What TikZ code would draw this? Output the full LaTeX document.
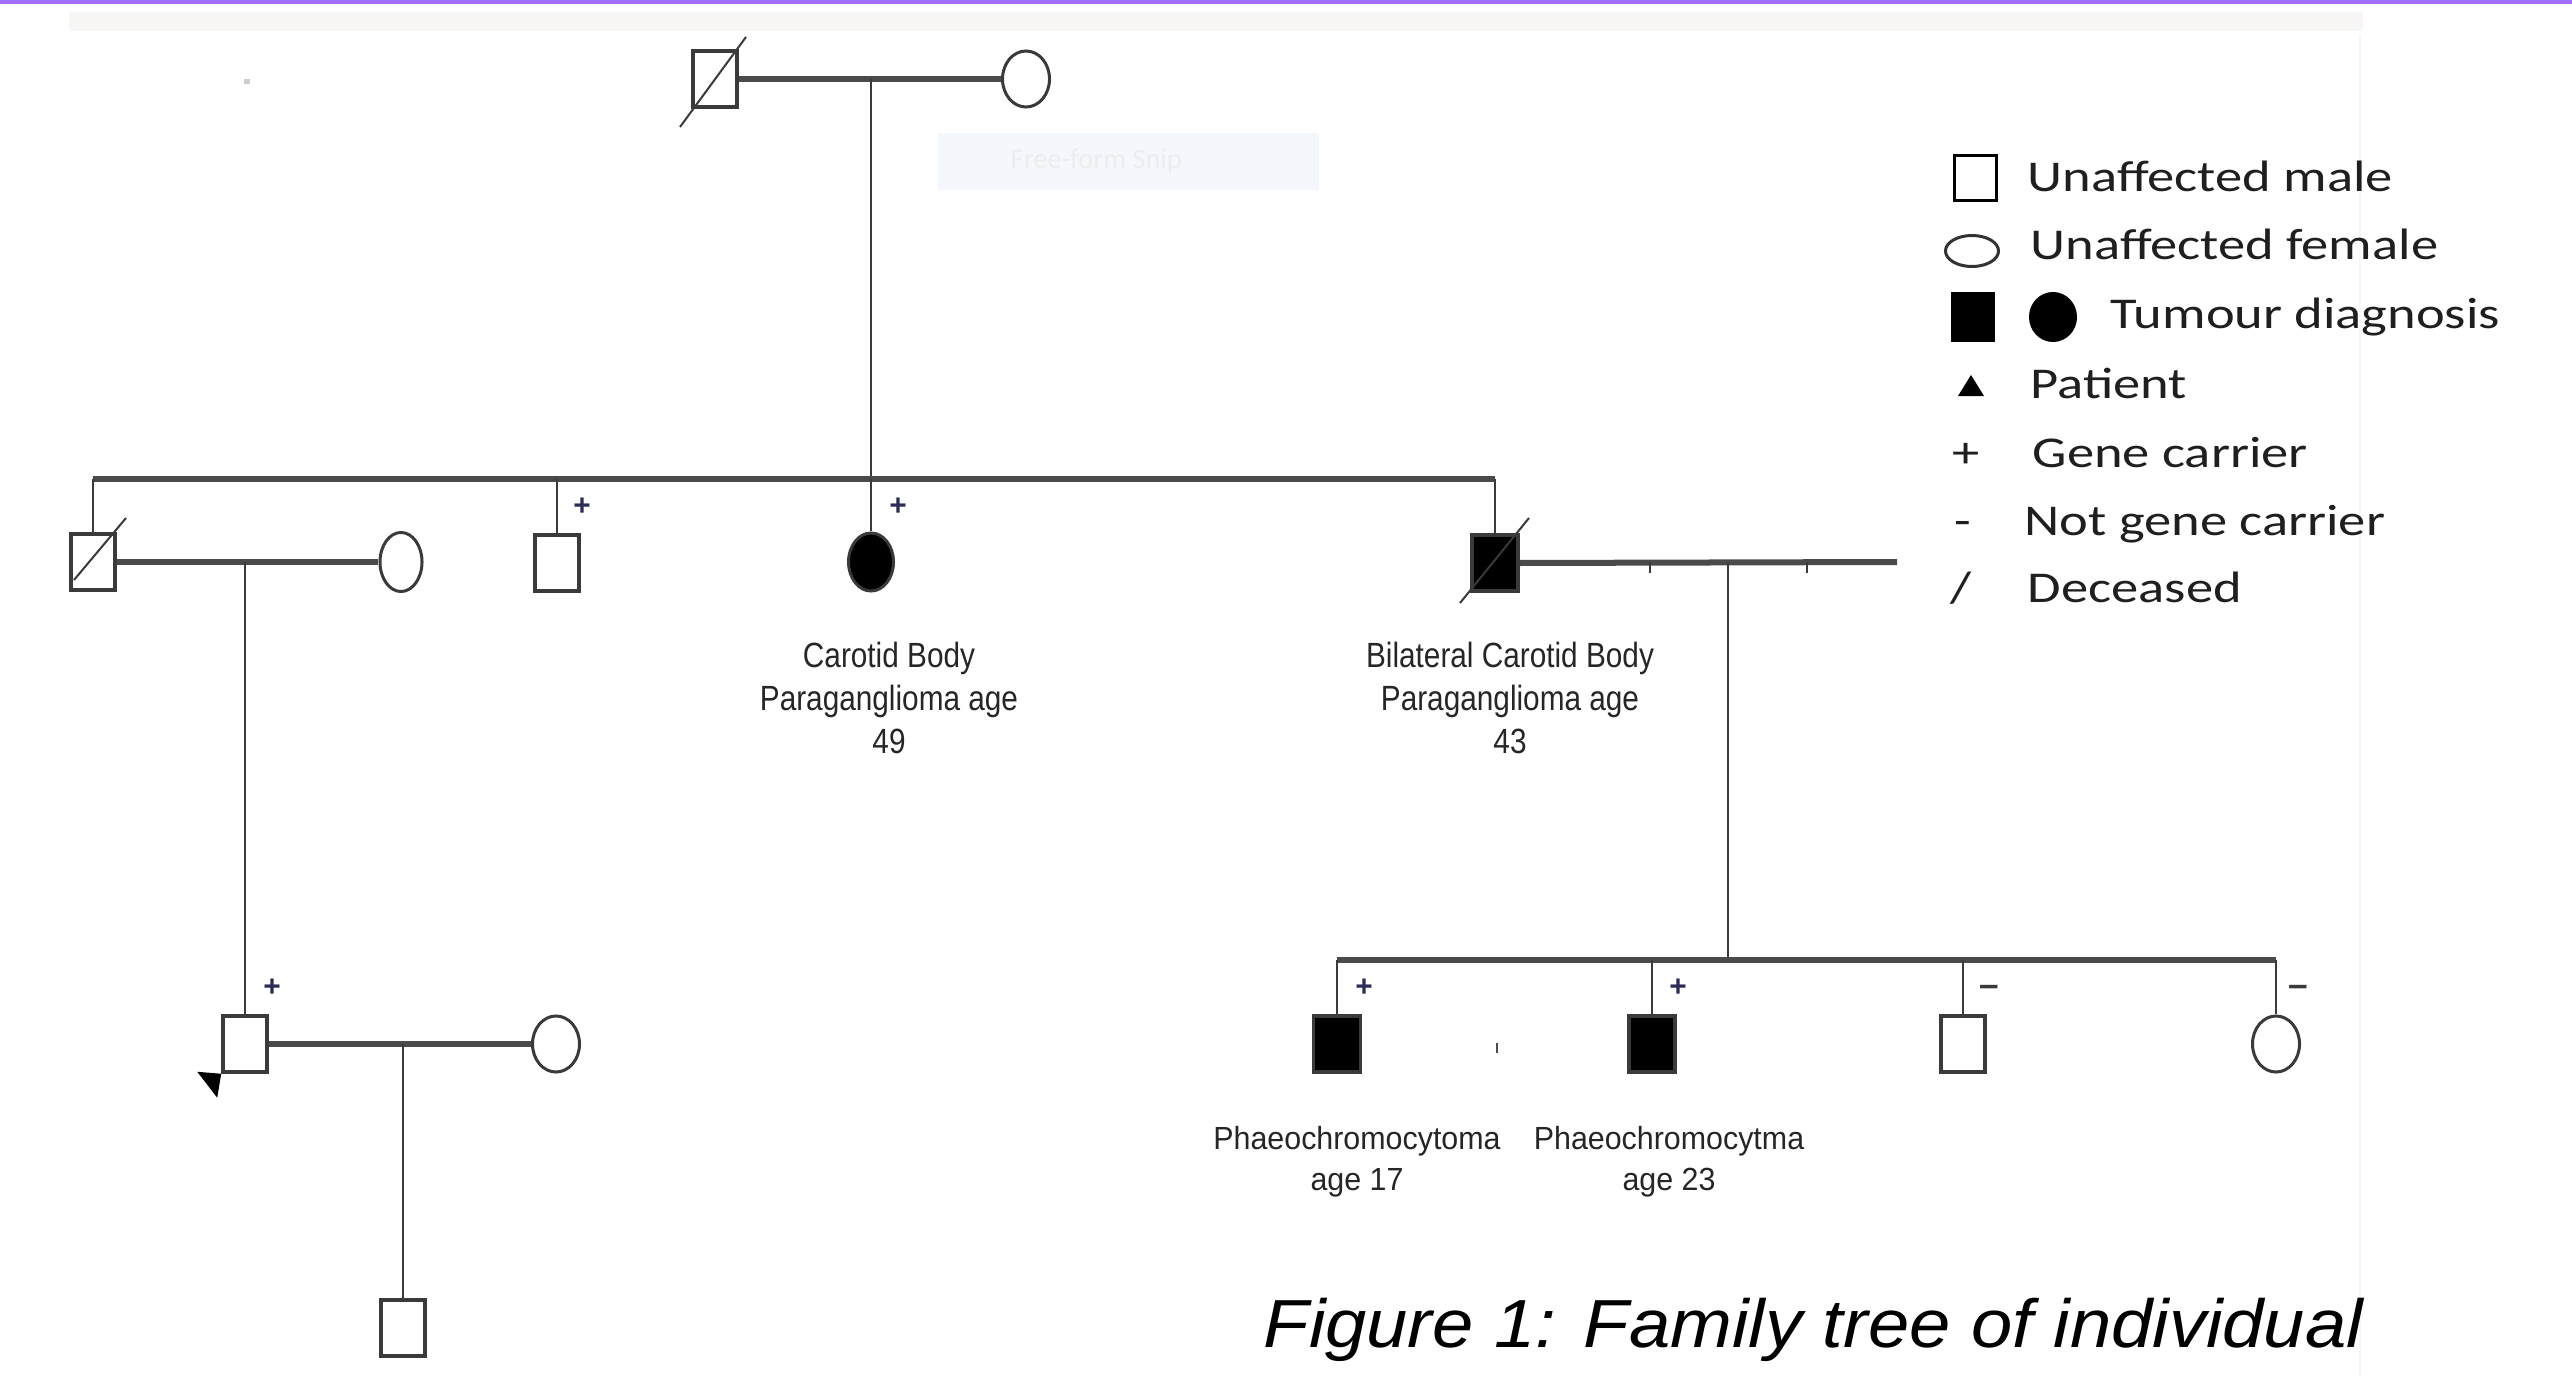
\documentclass[tikz,border=0pt]{standalone}
\usepackage{fontspec}
\setmainfont{Liberation Sans}
\newfontfamily\labelfont[FakeStretch=0.85]{Liberation Sans}
\newfontfamily\phaeofont[FakeStretch=0.95]{Liberation Sans}
\newfontfamily\legendfont[FakeStretch=1.24]{Carlito}
\newfontfamily\captionfont[FakeStretch=1.09]{Liberation Sans}
\newfontfamily\snipfont{Carlito}
\usetikzlibrary{shapes.geometric}
\definecolor{snipline}{HTML}{A070F8}
\definecolor{bandgray}{HTML}{F8F7F5}
\definecolor{snipblue}{HTML}{F4F8FC}
\definecolor{ped}{HTML}{3A3A3A}
\definecolor{pedline}{HTML}{4A4A4A}
\definecolor{carrier}{HTML}{2B2D55}

\begin{document}
\begin{tikzpicture}[x=0.01cm,y=-0.01cm,
  male/.style = {shape=rectangle, draw=ped, line width=0.035cm, minimum width=0.44cm, minimum height=0.56cm, inner sep=0},
  female/.style = {shape=ellipse, draw=ped, line width=0.03cm, minimum width=0.47cm, minimum height=0.56cm, inner sep=0},
  affected/.style = {fill=black},
  mate line/.style = {line width=0.06cm, pedline},
  kid line/.style = {line width=0.028cm, ped},
  deceased/.style = {line width=0.02cm, ped},
  status/.style = {font=\bfseries\fontsize{8.5}{8.5}\selectfont, text=carrier, inner sep=0},
  nocarrier/.style = {font=\bfseries\fontsize{10}{10}\selectfont, text=ped, inner sep=0},
  diag/.style = {font=\labelfont\fontsize{9.96}{12.2}\selectfont, text=black!85, align=center, inner sep=0},
  phaeo/.style = {font=\phaeofont\fontsize{9.1}{11.7}\selectfont, text=black!85, align=center, inner sep=0},
  legend/.style = {font=\legendfont\fontsize{12.5}{12.5}\selectfont, text=black!88, anchor=base west, inner sep=0}]
\useasboundingbox (0,0) rectangle (2572,1376);
\fill[white] (0,0) rectangle (2572,1376);
% screenshot leftovers
\fill[snipline] (0,0) rectangle (2572,4);
\fill[bandgray] (69,12) rectangle (2363,31);
\draw[black!3, line width=0.02cm] (2360,35) -- (2360,1376);
\fill[snipblue] (938,133) rectangle (1319,190);
\node[anchor=west, inner sep=0, text=black!7, font=\snipfont\fontsize{8.1}{8.1}\selectfont] (snip) at (1010,161) {Free-form Snip};
\fill[black!20] (244,79) rectangle (250,84);
\fill[black!70] (1496,1043) rectangle (1498,1053);

% generation I
\node[male] (1;1) at (715,79) {};
\node[female] (1;2) at (1026,79) {};
% generation II
\node[male] (2;1) at (93,562) {};
\node[female, minimum width=0.42cm, minimum height=0.59cm] (2;2) at (401,562) {};
\node[male] (2;3) at (557,563) {};
\node[female, affected, minimum width=0.45cm, minimum height=0.58cm] (2;4) at (871,562) {};
\node[male, affected, minimum width=0.46cm] (2;5) at (1495,563) {};
% generation III
\node[male] (3;1) at (245,1044) {};
\node[female] (3;2) at (556,1044) {};
\node[male, affected, minimum width=0.47cm] (3;3) at (1337,1044) {};
\node[male, affected, minimum width=0.46cm] (3;4) at (1652,1044) {};
\node[male] (3;5) at (1963,1044) {};
\node[female] (3;6) at (2276,1044) {};
% generation IV
\node[male] (4;1) at (403,1328) {};

% marriages and descent
\coordinate (m1) at (871,79);
\coordinate (s2L) at (93,479);
\coordinate (s2R) at (1495,479);
\draw[mate line] (1;1.east) -- (1;2.west);
\draw[kid line] (m1) -- (m1 |- s2L);
\draw[mate line] (s2L) -- (s2R);
\foreach \k in {1,3,4,5}
  { \draw[kid line] (2;\k.north) -- (2;\k.north |- s2L); }

\coordinate (m2) at (245,562);
\draw[mate line] (2;1.east) -- (2;2.west);
\draw[kid line] (m2) -- (3;1.north);

\coordinate (m3) at (403,1044);
\draw[mate line] (3;1.east) -- (3;2.west);
\draw[kid line] (m3) -- (4;1.north);

\coordinate (w5) at (1897,562);
\coordinate (m4) at (1728,562);
\coordinate (s3L) at (1337,960);
\coordinate (s3R) at (2276,960);
\draw[mate line] (2;5.east) -- (w5);
\draw[kid line] (1650,562) -- (1650,573);
\draw[kid line] (1807,562) -- (1807,573);
\draw[kid line] (m4) -- (m4 |- s3L);
\draw[mate line] (s3L) -- (s3R);
\foreach \k in {3,4,5,6}
  { \draw[kid line] (3;\k.north) -- (3;\k.north |- s3L); }

% deceased slashes
\draw[deceased] ([shift={(31,-42)}]1;1.center) -- ([shift={(-35,48)}]1;1.center);
\draw[deceased] ([shift={(33,-44)}]2;1.center) -- ([shift={(-19,18)}]2;1.center);
\draw[deceased] ([shift={(34,-45)}]2;5.center) -- ([shift={(-35,40)}]2;5.center);
% patient arrow
\fill[black] ([shift={(-24,-2)}]3;1.south west) -- (3;1.south west) -- ([shift={(-4,24)}]3;1.south west) -- cycle;

% carrier status
\node[status] (c23) at (582,507) {+};
\node[status] (c24) at (898,507) {+};
\node[status] (c31) at (272,988) {+};
\node[status] (c33) at (1364,988) {+};
\node[status] (c34) at (1678,988) {+};
\node[nocarrier] (c35) at (1989,991) {–};
\node[nocarrier] (c36) at (2298,991) {–};

% diagnoses
\node[diag] (d24) at (889,698) {Carotid Body\\Paraganglioma age\\49};
\node[diag] (d25) at (1510,698) {Bilateral Carotid Body\\Paraganglioma age\\43};
\node[phaeo] (d33) at (1357,1162) {Phaeochromocytoma\\age 17};
\node[phaeo] (d34) at (1669,1162) {Phaeochromocytma\\age 23};

% legend
\node[male, draw=black, line width=0.03cm, minimum width=0.42cm, minimum height=0.44cm] (k1) at (1975,178) {};
\node[legend] (t1) at (2027,192) {Unaffected male};
\node[female, draw=black!80, line width=0.03cm, minimum width=0.53cm, minimum height=0.31cm] (k2) at (1972,251) {};
\node[legend] (t2) at (2030,259) {Unaffected female};
\node[male, affected, draw=black, minimum width=0.40cm, minimum height=0.46cm] (k3) at (1973,317) {};
\node[female, affected, draw=black, minimum width=0.45cm, minimum height=0.47cm] (k3b) at (2053,317) {};
\node[legend] (t3) at (2110,329) {Tumour diagnosis};
\fill[black] (1958,396) -- (1971,375) -- (1984,396) -- cycle;
\node[legend] (t4) at (2030,398) {Patient};
\node[legend] (k5) at (1952,467) {+};
\node[legend] (t5) at (2032,467) {Gene carrier};
\node[legend] (k6) at (1954,535) {-};
\node[legend] (t6) at (2024,535) {Not gene carrier};
\node[legend] (k7) at (1950,602) {/};
\node[legend] (t7) at (2027,602) {Deceased};

% caption
\node[anchor=base west, inner sep=0, font=\captionfont\itshape\fontsize{19.35}{19.35}\selectfont] (cap) at (1263,1347) {Figure 1: Family tree of individual};
\end{tikzpicture}
\end{document}
